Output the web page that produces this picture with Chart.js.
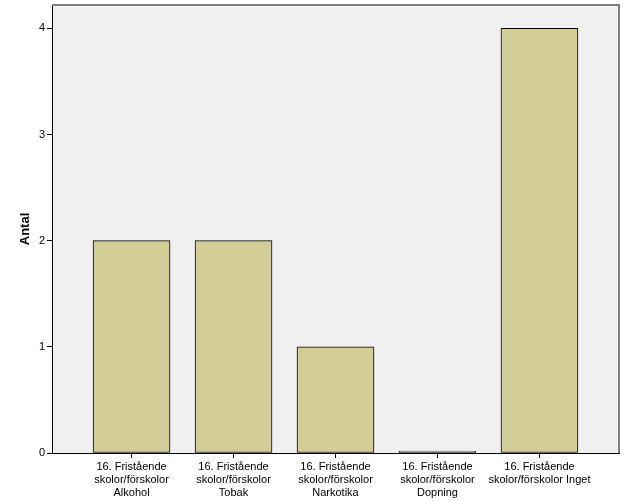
<!DOCTYPE html>
<html>
<head>
<meta charset="utf-8">
<script src="https://cdn.jsdelivr.net/npm/chart.js"></script>
<style>
  html, body { margin: 0; padding: 0; background: #fff; }
  #wrap { width: 626px; height: 501px; }
</style>
</head>
<body>
<div id="wrap"><canvas id="c" width="626" height="501"></canvas></div>
<script>
// categories and counts
const categories = [
  ['16. Fristående', 'skolor/förskolor', 'Alkohol'],
  ['16. Fristående', 'skolor/förskolor', 'Tobak'],
  ['16. Fristående', 'skolor/förskolor', 'Narkotika'],
  ['16. Fristående', 'skolor/förskolor', 'Dopning'],
  ['16. Fristående', 'skolor/förskolor Inget']
];
const counts = [2, 2, 1, 0, 4];
const yTicks = [0, 1, 2, 3, 4];

const font = { family: 'Liberation Sans, Arial, sans-serif', size: 11 };

// plot background + frame
const plotFrame = {
  id: 'plotFrame',
  beforeDraw(chart) {
    const { ctx, chartArea: a } = chart;
    ctx.save();
    ctx.fillStyle = '#f0f0f0';
    ctx.fillRect(a.left, a.top, a.right - a.left, a.bottom - a.top);
    ctx.restore();
  },
  afterDraw(chart) {
    const { ctx, chartArea: a } = chart;
    ctx.save();
    ctx.strokeStyle = '#808080';
    ctx.lineWidth = 2;
    ctx.beginPath();
    ctx.moveTo(a.left, a.top);
    ctx.lineTo(a.right, a.top);
    ctx.lineTo(a.right, a.bottom);
    ctx.stroke();
    ctx.restore();
  }
};

new Chart(document.getElementById('c'), {
  type: 'bar',
  data: {
    datasets: [{
      data: counts.map((v, i) => ({ x: i, y: v })),
      backgroundColor: '#d3ce97',
      borderColor: '#000',
      borderWidth: 1,
      borderSkipped: false,
      barThickness: 77,
      minBarLength: 2
    }]
  },
  options: {
    responsive: false,
    animation: false,
    layout: { padding: { top: 5, right: 7, left: 0, bottom: 0 } },
    plugins: { legend: { display: false }, tooltip: { enabled: false } },
    scales: {
      x: {
        type: 'linear',
        min: -0.78,
        max: 4.78,
        offset: false,
        afterBuildTicks: s => { s.ticks = categories.map((c, i) => ({ value: i })); },
        afterFit: s => { s.height = 48; s.paddingLeft = 0; s.paddingRight = 0; },
        ticks: {
          color: '#000',
          font: font,
          padding: 2,
          maxRotation: 0,
          autoSkip: false,
          callback: v => categories[v]
        },
        grid: { display: true, offset: false, drawOnChartArea: false, drawTicks: true, tickLength: 5, color: '#000' },
        border: { display: true, color: '#000', width: 1 }
      },
      y: {
        min: 0,
        max: 4.22,
        afterBuildTicks: s => { s.ticks = yTicks.map(v => ({ value: v })); },
        afterFit: s => { s.width = 52; s.paddingTop = 0; s.paddingBottom = 0; },
        ticks: { color: '#000', font: font, padding: 2 },
        grid: { display: true, drawOnChartArea: false, drawTicks: true, tickLength: 5, color: '#000' },
        border: { display: true, color: '#000', width: 1 },
        title: {
          display: true,
          text: 'Antal',
          color: '#000',
          font: { family: 'Liberation Sans, Arial, sans-serif', size: 13, weight: 'bold' },
          padding: { top: 18, bottom: 4 }
        }
      }
    }
  },
  plugins: [plotFrame]
});
</script>
</body>
</html>
